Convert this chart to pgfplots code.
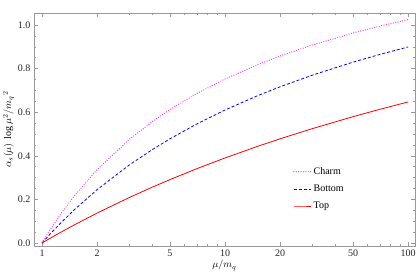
\documentclass[border=0pt]{standalone}
\usepackage{pgfplots}
\pgfplotsset{compat=1.18}
\usepackage{fontspec}
\setmainfont{Liberation Serif}
\definecolor{framegray}{gray}{0.6}
\definecolor{mag}{rgb}{1,0.2,1}
\begin{document}
\begin{tikzpicture}
\path[use as bounding box] (-34pt,-33pt) rectangle (383pt,246pt);
\begin{axis}[
  scale only axis,
  width=381pt, height=233pt,
  xmode=log,
  xmin=0.904, xmax=109,
  ymin=-0.014, ymax=1.055,
  xtick={1,2,5,10,20,50,100},
  xticklabels={1,2,5,10,20,50,100},
  minor xtick={3,4,6,7,8,9,30,40,60,70,80,90},
  ytick={0,0.2,0.4,0.6,0.8,1.0},
  minor y tick num=3,
  yticklabel style={/pgf/number format/.cd,fixed,fixed zerofill,precision=1},
  /pgf/number format/assume math mode=true,
  tick label style={font=\normalsize, black!85},
  axis line style={framegray},
  every tick/.style={framegray},
  tick align=inside,
  major tick length=4pt,
  minor tick length=2pt,
  tick pos=both,
  xticklabel pos=bottom, yticklabel pos=left,
  xlabel={$\mu/m_q$},
  ylabel={$\alpha_s(\mu)\ \log \mu^2/{m_q}^2$},
  label style={font=\normalsize},
  xlabel style={yshift=3pt},
  ylabel style={yshift=-3pt},
  legend style={draw=none, fill=none, at={(0.672,0.355)}, anchor=north west, font=\normalsize, row sep=5pt},
  legend cell align=left,
]
\addplot[mag, line width=1.3pt, line cap=round, dash pattern=on 0pt off 2.4pt] coordinates {
(1,0) (1.1,0.0565) (1.25,0.1263) (1.5,0.2156) (2,0.3365) (3,0.4752) (4,0.5565) (5,0.6120) (7,0.6854) (10,0.7523) (15,0.8174) (20,0.8579) (30,0.9084) (50,0.9631) (70,0.9947) (100,1.0250)
};
\addlegendentry{Charm}
\addplot[blue, line width=0.8pt, dash pattern=on 3pt off 2pt] coordinates {
(1,0) (1.1,0.0384) (1.25,0.0872) (1.5,0.1522) (2,0.2447) (3,0.3579) (4,0.4281) (5,0.4778) (7,0.5458) (10,0.6101) (15,0.6751) (20,0.7167) (30,0.7700) (50,0.8296) (70,0.8648) (100,0.8992)
};
\addlegendentry{Bottom}
\addplot[red, line width=0.8pt] coordinates {
(1,0) (1.1,0.0201) (1.25,0.0465) (1.5,0.0827) (2,0.1372) (3,0.2086) (4,0.2559) (5,0.2907) (7,0.3406) (10,0.3901) (15,0.4428) (20,0.4780) (30,0.5247) (50,0.5794) (70,0.6131) (100,0.6470)
};
\addlegendentry{Top}
\end{axis}
\end{tikzpicture}
\end{document}
